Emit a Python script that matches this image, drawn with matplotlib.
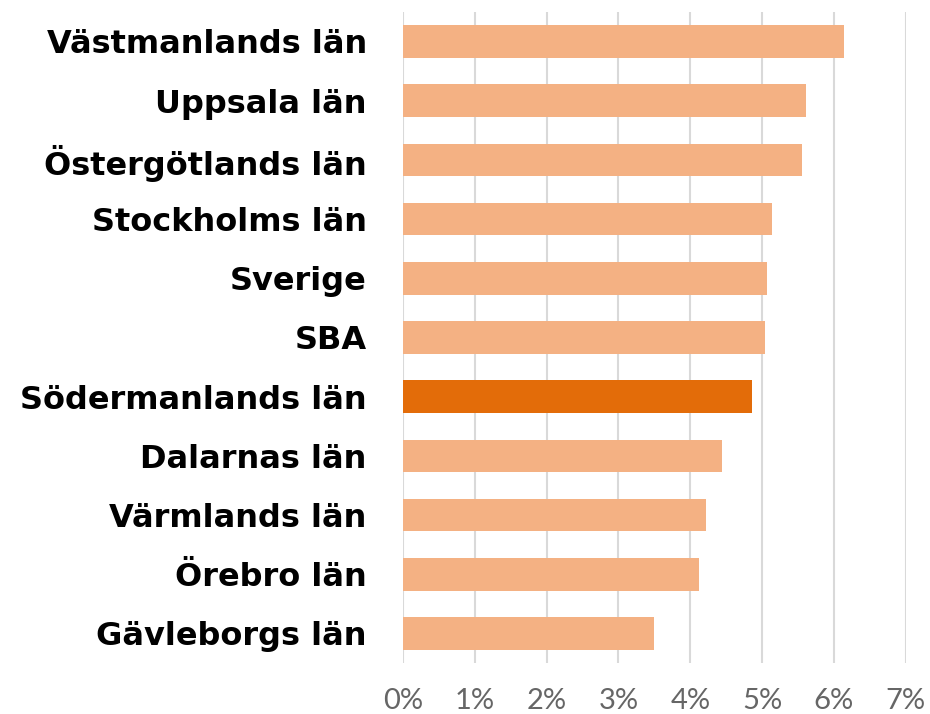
import matplotlib.pyplot as plt
from matplotlib.ticker import FuncFormatter

regions = ['Västmanlands län', 'Uppsala län', 'Östergötlands län', 'Stockholms län',
           'Sverige', 'SBA', 'Södermanlands län', 'Dalarnas län', 'Värmlands län',
           'Örebro län', 'Gävleborgs län']
values = [6.14, 5.61, 5.55, 5.14, 5.07, 5.04, 4.86, 4.44, 4.22, 4.12, 3.49]
highlight = 'Södermanlands län'

colors = ['#E36C09' if r == highlight else '#F4B183' for r in regions]

fig = plt.figure(figsize=(9.3, 7.14), dpi=100)
ax = fig.add_axes([0.4333, 0.0714, 0.5407, 0.912])

y = range(len(regions))
ax.barh(y, values, height=0.55, color=colors, zorder=3)
ax.set_ylim(len(regions) - 0.5, -0.5)
ax.set_xlim(0, 7)
ax.set_xticks(range(8))
ax.xaxis.set_major_formatter(FuncFormatter(lambda v, p: f'{int(v)}%'))
ax.set_yticks(list(y))
ax.set_yticklabels(regions, fontsize=23, fontweight='bold', family='DejaVu Sans')
ax.tick_params(axis='y', length=0, pad=26)
ax.tick_params(axis='x', length=0, pad=18, labelsize=21, labelcolor='#666666')
for lab in ax.get_xticklabels():
    lab.set_family('Lato')
ax.grid(axis='x', color='#D9D9D9', linewidth=1.5, zorder=0)
for s in ax.spines.values():
    s.set_visible(False)

fig.savefig('out.png')
